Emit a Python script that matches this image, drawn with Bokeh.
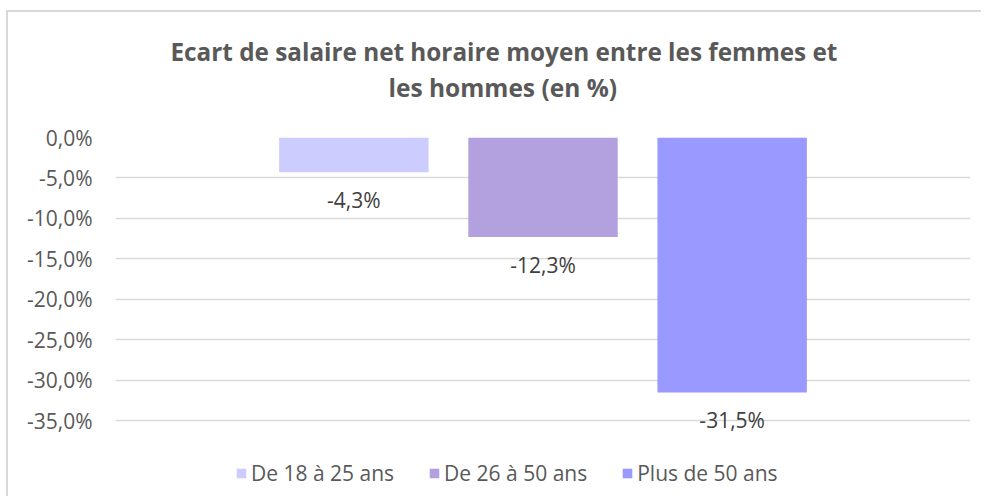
from bokeh.plotting import figure
from bokeh.models import (ColumnDataSource, FactorRange, Range1d, FixedTicker,
                          CustomJSTickFormatter, Legend, LegendItem, Title)
from bokeh.embed import file_html
from bokeh.resources import INLINE

# ---- data ----
series = ["De 18 à 25 ans", "De 26 à 50 ans", "Plus de 50 ans"]
values = [-4.3, -12.3, -31.5]
colors = ["#CCCCFF", "#B3A0DF", "#9999FF"]
y_ticks = [0, -5, -10, -15, -20, -25, -30, -35]
title_lines = ["Ecart de salaire net horaire moyen entre les femmes et",
               "les hommes (en %)"]

labels = [f"{v:.1f}".replace(".", ",") + "%" for v in values]
src = ColumnDataSource(dict(series=series, values=values, colors=colors, labels=labels))

FONT = "Open Sans"
GRAY = "#595959"

p = figure(
    x_range=FactorRange(factors=series, range_padding=0.76, range_padding_units="absolute"),
    y_range=Range1d(-44.6, 0),
    width=975, height=486,
    output_backend="svg", toolbar_location=None,
    min_border_left=107, min_border_right=13, min_border_top=125, min_border_bottom=0,
)
p.styles = {"border-top": "2px solid #D9D9D9", "border-left": "2px solid #D9D9D9",
            "margin-top": "10px", "margin-left": "6px"}
p.title = None
p.outline_line_color = None
p.background_fill_color = "white"
p.border_fill_color = "white"

bars = p.vbar(x="series", top=0, bottom="values", width=0.79, source=src,
              fill_color="colors", line_color=None)

p.text(x="series", y="values", text="labels", source=src, y_offset=28,
       text_align="center", text_baseline="middle", text_font_size="21px",
       text_color="#404040", text_font={"value": FONT})

# titles (second line added first so it sits nearest the plot)
t2 = Title(text=title_lines[1], align="left", offset=273, text_font=FONT,
           text_font_size="24.5px", text_font_style="bold", text_color=GRAY, standoff=67)
t1 = Title(text=title_lines[0], align="left", offset=55, text_font=FONT,
           text_font_size="24.3px", text_font_style="bold", text_color=GRAY, standoff=-65)
p.add_layout(t2, "above")
p.add_layout(t1, "above")

p.xaxis.visible = False
p.xgrid.grid_line_color = None
p.ygrid.grid_line_color = "#D9D9D9"
p.ygrid.grid_line_width = 1.5

ya = p.yaxis[0]
ya.ticker = FixedTicker(ticks=y_ticks)
ya.formatter = CustomJSTickFormatter(code="return tick.toFixed(1).replace('.', ',') + '%';")
ya.axis_line_color = None
ya.major_tick_line_color = None
ya.minor_tick_line_color = None
ya.major_label_standoff = 17
ya.major_label_text_font = FONT
ya.major_label_text_font_size = "21px"
ya.major_label_text_color = GRAY

items = [LegendItem(label=s, renderers=[bars], index=i) for i, s in enumerate(series)]
legend = Legend(items=items, orientation="horizontal", location=(120, 11),
                label_text_font=FONT, label_text_font_size="21px", label_text_color=GRAY,
                glyph_width=12, glyph_height=12, label_standoff=4, spacing=34,
                padding=0, margin=0, border_line_color=None, background_fill_alpha=0)
p.add_layout(legend, "center")

open("out.html", "w").write(file_html(p, INLINE))
